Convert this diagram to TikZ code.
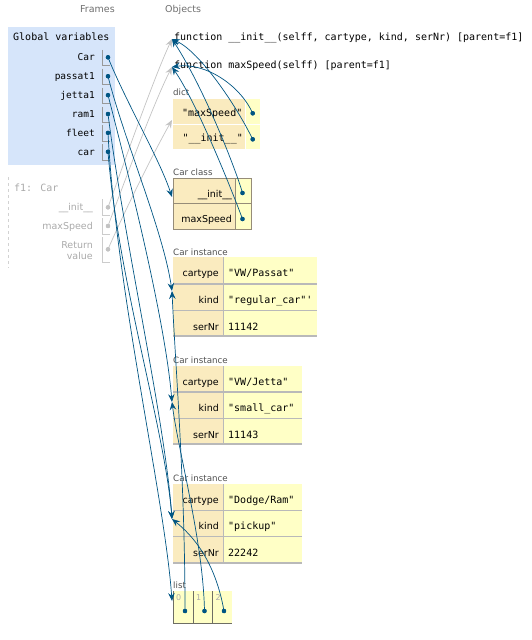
\documentclass[tikz,border=0pt]{standalone}
\usepackage{fontspec}
\setmainfont{DejaVu Sans}
\newfontfamily\monofam{DejaVu Sans Mono}[Ligatures=TeXOff]
\usetikzlibrary{arrows.meta}
\definecolor{ptblue}{RGB}{0,85,131}
\definecolor{ptgray}{RGB}{195,195,195}
\definecolor{framebg}{RGB}{214,229,250}
\definecolor{keytan}{RGB}{250,235,191}
\definecolor{valyel}{RGB}{255,255,198}
\definecolor{labgray}{RGB}{80,80,80}
\definecolor{hdrgray}{RGB}{110,110,110}
\definecolor{fgray}{RGB}{170,170,170}
\definecolor{clsline}{RGB}{150,140,120}
\definecolor{instline}{RGB}{185,185,185}
\definecolor{listline}{RGB}{110,110,100}
\begin{document}
\begin{tikzpicture}[x=1pt,y=-1pt,
 hdr/.style={font=\fontsize{9.5}{11}\selectfont, text=hdrgray, inner sep=0, anchor=base west},
 codetxt/.style={font=\monofam\fontsize{10}{12}\selectfont, inner sep=0, anchor=base west},
 ftitle/.style={font=\monofam\fontsize{10}{12}\selectfont, text=fgray, inner sep=0, anchor=base west},
 varname/.style={font=\monofam\fontsize{9.5}{11}\selectfont, inner sep=0, anchor=base east},
 fvar/.style={font=\fontsize{9.5}{11}\selectfont, text=fgray, inner sep=0, anchor=base east},
 objlabel/.style={font=\fontsize{8.7}{10}\selectfont, text=labgray, inner sep=0, anchor=base west},
 keytxt/.style={font=\fontsize{9.5}{11}\selectfont, inner sep=0, anchor=base east},
 valtxt/.style={font=\monofam\fontsize{10}{12}\selectfont, inner sep=0, anchor=base west},
 dictkey/.style={font=\monofam\fontsize{10}{12}\selectfont, inner sep=0, anchor=base east},
 idx/.style={font=\fontsize{8}{9}\selectfont, text=fgray, inner sep=0, anchor=base west},
 ptr/.style={draw=ptblue, line width=0.7pt, -{Stealth[length=8pt,width=6.5pt,inset=2.8pt]}},
 gptr/.style={ptr, draw=ptgray},
 vdot/.style={circle, fill=ptblue, inner sep=0, minimum size=4.4pt},
 gvdot/.style={vdot, fill=ptgray},
 brk/.style={draw=gray!80, line width=0.8pt},
 gbrk/.style={draw=gray!40, line width=0.8pt},
 instsep/.style={draw=instline, line width=1.2pt},
]
\useasboundingbox (0,0) rectangle (531,640);

% ---------- headers
\node[hdr] (frames) at (80,12.5) {Frames};
\node[hdr] (objects) at (165,12.5) {Objects};

% ---------- global frame
\node[fill=framebg, anchor=north west, inner sep=0, minimum width=107pt, minimum height=138pt] (gframe) at (8,27) {};
\node[codetxt] (ghead) at (13,40.5) {Global variables};
\foreach \nm/\lab/\c in {vCar/Car/57.3, vPassat/passat1/76.2, vJetta/jetta1/95.1, vRam/ram1/114, vFleet/fleet/132.9, vCarx/car/151.8}{
  \node[varname] (n\nm) at (95,\c+3.5) {\lab};
  \draw[brk] (102,\c-7.5) -- (102,\c+8.5) -- (110,\c+8.5);
}

% ---------- f1 frame
\draw[dashed, draw=gray!35, line width=0.8pt] (8,177) -- (8,268);
\node[ftitle] (f1title) at (14,191) {f1: Car};
\node[fvar] (fInit) at (93,210.5) {\_\_init\_\_};
\node[fvar] (fMax) at (93,229.5) {maxSpeed};
\node[fvar] (fRet1) at (93,248.5) {Return};
\node[fvar] (fRet2) at (93,259.5) {value};
\draw[gbrk] (102,199) -- (102,215) -- (110,215);
\draw[gbrk] (102,218) -- (102,234) -- (110,234);
\draw[gbrk] (102,237) -- (102,262) -- (110,262);

% ---------- functions
\node[codetxt] (fnInit) at (174,40) {function \_\_init\_\_(selff, cartype, kind, serNr) [parent=f1]};
\node[codetxt] (fnMax) at (174,68) {function maxSpeed(selff) [parent=f1]};

% ---------- dict
\node[objlabel] (dictlab) at (173,95) {dict};
\fill[keytan] (173,99) rectangle (245,123.5);
\fill[keytan] (173,124.5) rectangle (245,149);
\fill[valyel] (246,99) rectangle (259.5,123.5);
\fill[valyel] (246,124.5) rectangle (259.5,149);
\node[dictkey] (dk1) at (242.5,116.5) {"maxSpeed"};
\node[dictkey] (dk2) at (243,141.5) {"\_\_init\_\_"};

% ---------- Car class
\node[objlabel] (clslab) at (173,175.5) {Car class};
\fill[keytan] (173,178) rectangle (235,229);
\fill[valyel] (235,178) rectangle (251,229);
\draw[clsline, line width=0.8pt] (173,178) rectangle (251,229);
\draw[clsline, line width=0.8pt] (173,203.5) -- (251,203.5) (235,178) -- (235,229);
\node[keytxt] (ck1) at (232,197.5) {\_\_init\_\_};
\node[keytxt] (ck2) at (232,222.5) {maxSpeed};

% ---------- Car instance 1
\node[objlabel] (i1lab) at (173,255.5) {Car instance};
\fill[keytan] (173,257) rectangle (223.5,336);
\fill[valyel] (223.5,257) rectangle (317,336);
\draw[instsep] (173,284) -- (317,284) (173,310.5) -- (317,310.5) (173,336) -- (317,336);
\draw[draw=instline, line width=1pt] (223.5,257) -- (223.5,336);
\node[keytxt] (i1k1) at (219,276.5) {cartype};
\node[keytxt] (i1k2) at (219,303.5) {kind};
\node[keytxt] (i1k3) at (219,330) {serNr};
\node[valtxt] (i1v1) at (228,276.5) {"VW/Passat"};
\node[valtxt] (i1v2) at (228,303.5) {"regular\_car"'};
\node[valtxt] (i1v3) at (228,330) {11142};

% ---------- Car instance 2
\node[objlabel] (i2lab) at (173,363) {Car instance};
\fill[keytan] (173,366) rectangle (223.5,444);
\fill[valyel] (223.5,366) rectangle (302,444);
\draw[instsep] (173,392) -- (302,392) (173,418.5) -- (302,418.5) (173,444) -- (302,444);
\draw[draw=instline, line width=1pt] (223.5,366) -- (223.5,444);
\node[keytxt] (i2k1) at (219,385.5) {cartype};
\node[keytxt] (i2k2) at (219,411.5) {kind};
\node[keytxt] (i2k3) at (219,438) {serNr};
\node[valtxt] (i2v1) at (228,385.5) {"VW/Jetta"};
\node[valtxt] (i2v2) at (228,411.5) {"small\_car"};
\node[valtxt] (i2v3) at (228,438) {11143};

% ---------- Car instance 3
\node[objlabel] (i3lab) at (173,481) {Car instance};
\fill[keytan] (173,484) rectangle (223.5,563);
\fill[valyel] (223.5,484) rectangle (302,563);
\draw[instsep] (173,510.5) -- (302,510.5) (173,536.5) -- (302,536.5) (173,563) -- (302,563);
\draw[draw=instline, line width=1pt] (223.5,484) -- (223.5,563);
\node[keytxt] (i3k1) at (219,503.5) {cartype};
\node[keytxt] (i3k2) at (219,529.5) {kind};
\node[keytxt] (i3k3) at (219,556) {serNr};
\node[valtxt] (i3v1) at (228,503.5) {"Dodge/Ram"};
\node[valtxt] (i3v2) at (228,529.5) {"pickup"};
\node[valtxt] (i3v3) at (228,556) {22242};

% ---------- list
\node[objlabel] (listlab) at (173,588) {list};
\fill[valyel] (173,591) rectangle (232,623);
\draw[listline, line width=0.8pt] (173,591) -- (173,623) -- (232,623) (193,591) -- (193,623) (212.5,591) -- (212.5,623);
\node[idx] (ix0) at (176,600) {0};
\node[idx] (ix1) at (196,600) {1};
\node[idx] (ix2) at (215.5,600) {2};

% ---------- targets
\coordinate (tFnInit) at (172,39);
\coordinate (tFnMax) at (172,67);
\coordinate (tDict) at (172,120);
\coordinate (tClass) at (172,197);
\coordinate (tInst1) at (172,291);
\coordinate (tInst2) at (172,402);
\coordinate (tInst3) at (172,519);
\coordinate (tList) at (172,601);

% ---------- pointer dots
\node[vdot] (dCar) at (108,57.3) {};
\node[vdot] (dPassat) at (108,76.2) {};
\node[vdot] (dJetta) at (108,95.1) {};
\node[vdot] (dRam) at (108,114) {};
\node[vdot] (dFleet) at (108,132.9) {};
\node[vdot] (dCarx) at (108,151.8) {};
\node[gvdot] (gInit) at (108,207.3) {};
\node[gvdot] (gMax) at (108,226) {};
\node[gvdot] (gRet) at (108,249.3) {};
\node[vdot] (dkMax) at (252.7,113.3) {};
\node[vdot] (dkInit) at (252.7,139.3) {};
\node[vdot] (ckInit) at (242.5,193) {};
\node[vdot] (ckMax) at (242.5,219) {};
\node[vdot] (l0) at (185,611) {};
\node[vdot] (l1) at (204.5,611) {};
\node[vdot] (l2) at (224,611) {};

% ---------- gray pointers
\draw[gptr] (gInit.center) .. controls (125,160) and (155,75) .. (tFnInit);
\draw[gptr] (gMax.center) .. controls (125,180) and (155,100) .. (tFnMax);
\draw[gptr] (gRet.center) .. controls (125,210) and (155,150) .. (tDict);

% ---------- blue pointers from globals
\draw[ptr] (dCar.center) .. controls (125,100) and (160,160) .. (tClass);
\draw[ptr] (dPassat.center) .. controls (124,140) and (163,230) .. (tInst1);
\draw[ptr] (dJetta.center) .. controls (130,180) and (165,320) .. (tInst2);
\draw[ptr] (dRam.center) .. controls (124,240) and (165,420) .. (tInst3);
\draw[ptr] (dCarx.center) .. controls (118,280) and (165,430) .. (tInst3);
\draw[ptr] (dFleet.center) .. controls (116,290) and (165,500) .. (tList);

% ---------- dict and class pointers
\draw[ptr] (dkMax.center) .. controls (240,85) and (205,62) .. (tFnMax);
\draw[ptr] (dkInit.center) .. controls (236,105) and (200,52) .. (tFnInit);
\draw[ptr] (ckInit.center) .. controls (236,170) and (205,90) .. (tFnInit);
\draw[ptr] (ckMax.center) .. controls (228,180) and (195,100) .. (tFnMax);

% ---------- list pointers
\draw[ptr] (l0.center) .. controls (185,480) and (175,360) .. (tInst1);
\draw[ptr] (l1.center) .. controls (203,540) and (178,450) .. (tInst2);
\draw[ptr] (l2.center) .. controls (215,560) and (192,535) .. (tInst3);

% dots on top
\foreach \d in {dCar,dPassat,dJetta,dRam,dFleet,dCarx,dkMax,dkInit,ckInit,ckMax,l0,l1,l2}{
  \fill[ptblue] (\d.center) circle (2.2pt);
}
\foreach \d in {gInit,gMax,gRet}{
  \fill[ptgray] (\d.center) circle (2.2pt);
}
\end{tikzpicture}
\end{document}
